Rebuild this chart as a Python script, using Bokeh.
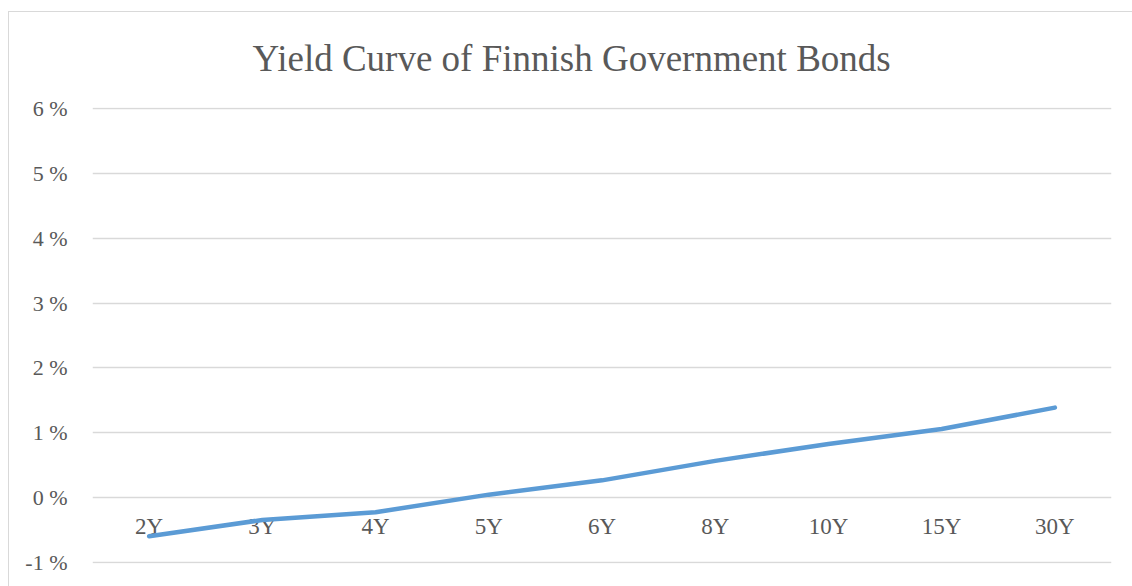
from bokeh.plotting import figure
from bokeh.models import FactorRange, Range1d, FixedTicker, ColumnDataSource
from bokeh.core.properties import value
from bokeh.embed import file_html
from bokeh.resources import INLINE

# ---- data ----
maturities = ["2Y", "3Y", "4Y", "5Y", "6Y", "8Y", "10Y", "15Y", "30Y"]
yields_pct = [-0.59, -0.34, -0.22, 0.05, 0.27, 0.57, 0.83, 1.06, 1.39]
y_ticks = [-1, 0, 1, 2, 3, 4, 5, 6]
y_tick_labels = ["-1 %", "0 %", "1 %", "2 %", "3 %", "4 %", "5 %", "6 %"]
title_text = "Yield Curve of Finnish Government Bonds"

FONT = "Liberation Serif"
TXT = "#595959"
EDGE = "#d9d9d9"

p = figure(
    width=1124, height=582,
    x_range=FactorRange(*maturities, range_padding=0),
    y_range=Range1d(-1.01, 6.01),
    output_backend="svg", toolbar_location=None,
    min_border_left=84, min_border_right=21,
    min_border_top=103, min_border_bottom=23,
    title=title_text,
)
p.margin = (4, 0, 0, 8)
p.border_fill_color = None
p.background_fill_color = "#ffffff"
p.styles = {
    "background": (
        f"linear-gradient({EDGE}, {EDGE}) 0px 7px / 100% 1px no-repeat, "
        f"linear-gradient({EDGE}, {EDGE}) 0px 7px / 1px 100% no-repeat, #ffffff"
    )
}

p.title.align = "left"
p.title.offset = 160
p.title.text_font = FONT
p.title.text_font_size = "37px"
p.title.text_font_style = "normal"
p.title.text_color = TXT
p.title.standoff = 58

p.outline_line_color = None
p.xgrid.grid_line_color = None
p.ygrid.grid_line_color = EDGE
p.ygrid.grid_line_width = 1.3

p.xaxis.visible = False

ya = p.yaxis[0]
ya.ticker = FixedTicker(ticks=y_ticks)
ya.major_label_overrides = {t: l for t, l in zip(y_ticks, y_tick_labels)}
ya.axis_line_color = None
ya.major_tick_line_color = None
ya.minor_tick_line_color = None
ya.major_label_standoff = 19
ya.major_label_text_font = FONT
ya.major_label_text_font_size = "22px"
ya.major_label_text_color = TXT

src = ColumnDataSource(dict(x=maturities, y=yields_pct, base=[0] * len(maturities)))

p.text(x="x", y="base", text="x", source=src,
       text_font=value(FONT), text_font_size="23px", text_color=TXT,
       text_align="center", text_baseline="middle", y_offset=29)

p.line(x="x", y="y", source=src, line_color="#5B9BD5", line_width=4.5,
       line_cap="round", line_join="round")

open("out.html", "w").write(file_html(p, INLINE))
